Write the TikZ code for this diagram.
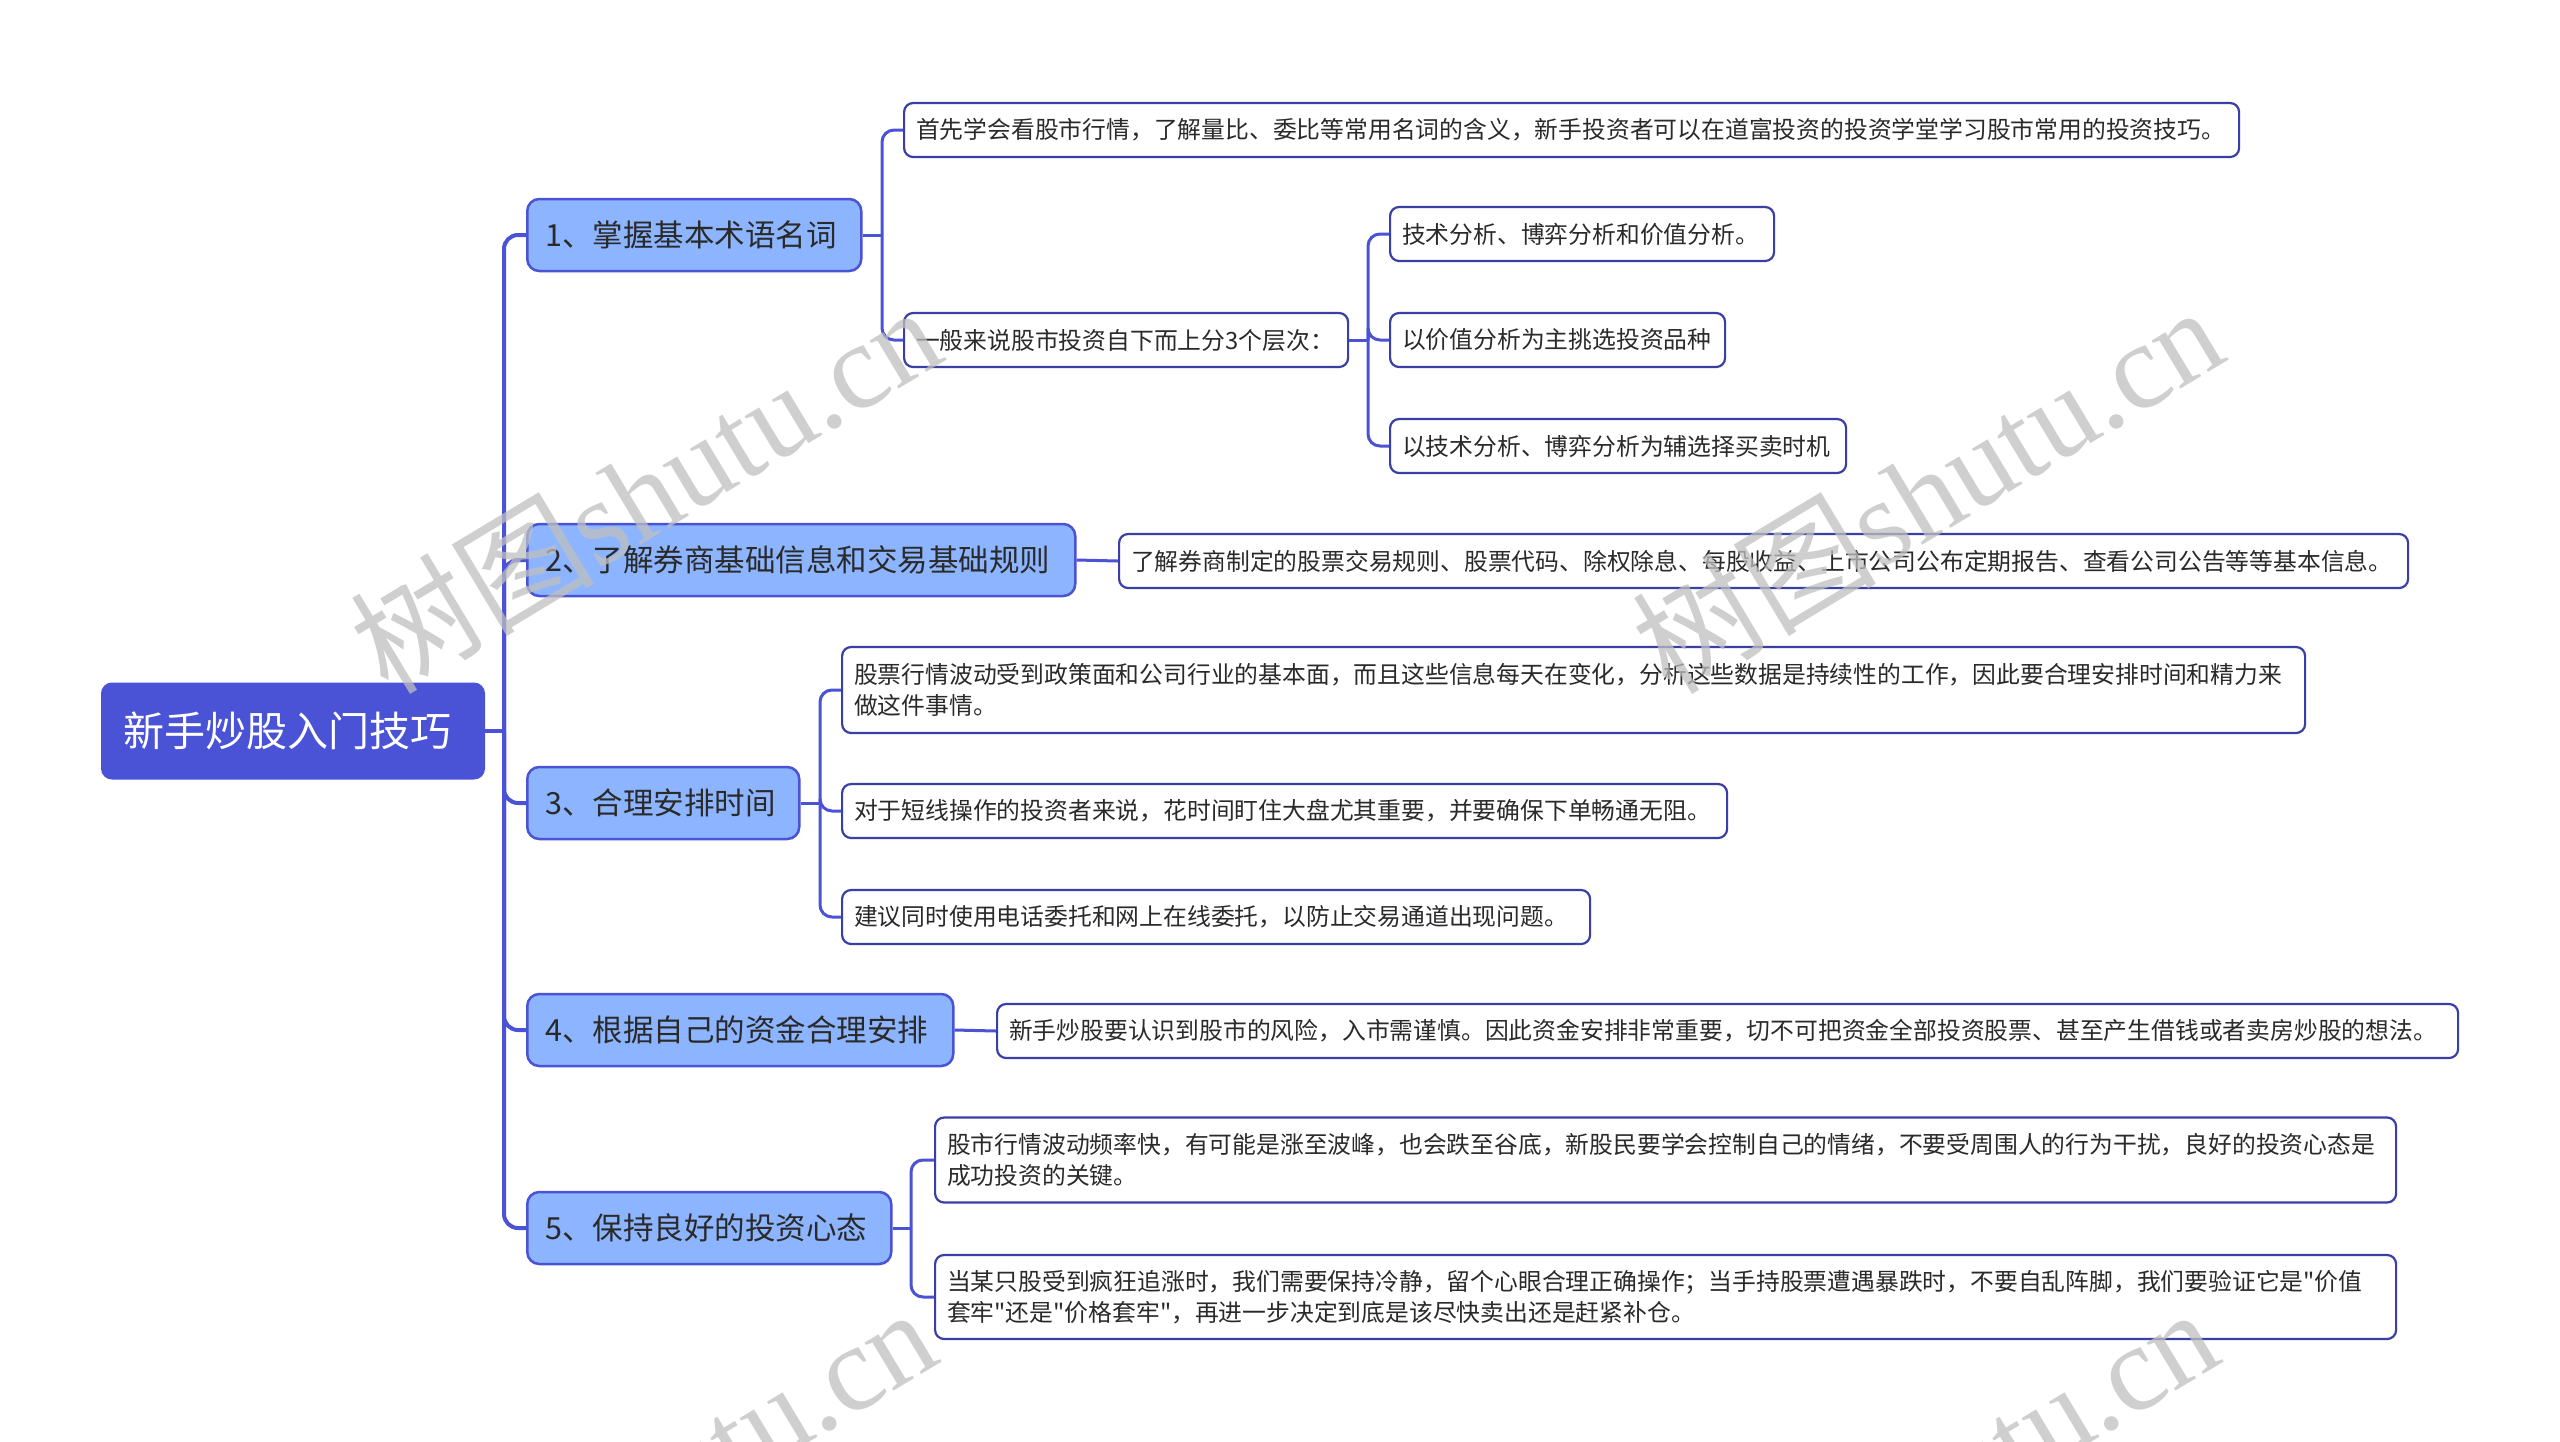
\documentclass[tikz,border=0pt]{standalone}
\usepackage{fontspec}
\setmainfont{Noto Sans CJK SC}[Ligatures=TeXOff]
\newfontfamily\cjkfont{Noto Sans CJK SC}
\newfontfamily\wmserif{Liberation Serif}
\definecolor{rootfill}{HTML}{4A52D6}
\definecolor{lonefill}{HTML}{8CB4FF}
\definecolor{edgecol}{HTML}{4A52D6}
\definecolor{ltwoborder}{HTML}{3A3FA6}
\definecolor{txtcol}{HTML}{2A2A2A}
\begin{document}
\begin{tikzpicture}[x=1pt,y=-1pt,
  rootbox/.style={draw=rootfill,line width=2pt,fill=rootfill,rounded corners=10,text=white,
    font=\fontsize{41}{48}\selectfont,anchor=west,inner xsep=21,inner ysep=0,minimum height=95,align=left},
  lonebox/.style={draw=edgecol,line width=2.5pt,fill=lonefill,rounded corners=12,text=txtcol,
    font=\fontsize{30.5}{36}\selectfont,anchor=west,inner xsep=18,inner ysep=0,minimum height=72,align=left},
  ltwobox/.style={draw=ltwoborder,line width=2.2pt,fill=white,rounded corners=9,text=txtcol,
    font=\fontsize{23.8}{31}\selectfont,anchor=west,inner xsep=12,inner ysep=0,minimum height=54,align=left},
  lonelink/.style={draw=edgecol,line width=4pt,rounded corners=14},
  ltwolink/.style={draw=edgecol,line width=3pt,rounded corners=12},
  wmark/.style={rotate=31,text=black!25,opacity=0.75,font=\fontsize{122}{122}\selectfont}
]
\useasboundingbox (0,0) rectangle (2560,1441);
\fill[white] (0,0) rectangle (2560,1441);

% root
\node[rootbox,text width=340] (root) at (101,731) {新手炒股入门技巧};

% level 1
\node[lonebox,text width=298] (n1) at (526,235) {1、掌握基本术语名词};
\node[lonebox,text width=512] (n2) at (526,560) {2、了解券商基础信息和交易基础规则};
\node[lonebox,text width=236] (n3) at (526,803) {3、合理安排时间};
\node[lonebox,text width=390] (n4) at (526,1030) {4、根据自己的资金合理安排};
\node[lonebox,text width=328] (n5) at (526,1228) {5、保持良好的投资心态};

% level 2
\node[ltwobox,text width=1311] (a1) at (903,130) {首先学会看股市行情，了解量比、委比等常用名词的含义，新手投资者可以在道富投资的投资学堂学习股市常用的投资技巧。};
\node[ltwobox,text width=420] (b1) at (903,340) {一般来说股市投资自下而上分3个层次：};
\node[ltwobox,text width=360] (c1) at (1389,234) {技术分析、博弈分析和价值分析。};
\node[ltwobox,text width=311] (c2) at (1389,340) {以价值分析为主挑选投资品种};
\node[ltwobox,text width=432] (c3) at (1389,446) {以技术分析、博弈分析为辅选择买卖时机};
\node[ltwobox,text width=1265] (a2) at (1118,561) {了解券商制定的股票交易规则、股票代码、除权除息、每股收益、上市公司公布定期报告、查看公司公告等等基本信息。};
\node[ltwobox,text width=1439,minimum height=86] (a3) at (841,690) {股票行情波动受到政策面和公司行业的基本面，而且这些信息每天在变化，分析这些数据是持续性的工作，因此要合理安排时间和精力来\\做这件事情。};
\node[ltwobox,text width=861] (b3) at (841,811) {对于短线操作的投资者来说，花时间盯住大盘尤其重要，并要确保下单畅通无阻。};
\node[ltwobox,text width=724] (c3b) at (841,917) {建议同时使用电话委托和网上在线委托，以防止交易通道出现问题。};
\node[ltwobox,text width=1437] (a4) at (996,1031) {新手炒股要认识到股市的风险，入市需谨慎。因此资金安排非常重要，切不可把资金全部投资股票、甚至产生借钱或者卖房炒股的想法。};
\node[ltwobox,text width=1437,minimum height=85] (a5) at (934,1160) {股市行情波动频率快，有可能是涨至波峰，也会跌至谷底，新股民要学会控制自己的情绪，不要受周围人的行为干扰，良好的投资心态是\\成功投资的关键。};
\node[ltwobox,text width=1437,minimum height=84] (b5) at (934,1297) {当某只股受到疯狂追涨时，我们需要保持冷静，留个心眼合理正确操作；当手持股票遭遇暴跌时，不要自乱阵脚，我们要验证它是"价值\\套牢"还是"价格套牢"，再进一步决定到底是该尽快卖出还是赶紧补仓。};

% junction coordinates
\coordinate (t0) at (504,731);
\coordinate (j1) at (882,235);
\coordinate (j3) at (820,803);
\coordinate (j5) at (911,1228);
\coordinate (jb) at (1368,340);

% level 1 links
\draw[lonelink] (root.east) -- (t0);
\foreach \k in {n1,n2,n3,n4,n5} { \draw[lonelink] (t0) |- (\k.west); }

% level 2 links
\draw[ltwolink] (n1.east) -- (j1);
\draw[ltwolink] (j1) |- (a1.west);
\draw[ltwolink] (j1) |- (b1.west);
\draw[ltwolink] (b1.east) -- (jb);
\draw[ltwolink] (jb) |- (c1.west);
\draw[ltwolink] (jb) |- (c2.west);
\draw[ltwolink] (jb) |- (c3.west);
\draw[ltwolink] (n2.east) -- (a2.west);
\draw[ltwolink] (n3.east) -- (j3);
\draw[ltwolink] (j3) |- (a3.west);
\draw[ltwolink] (j3) |- (b3.west);
\draw[ltwolink] (j3) |- (c3b.west);
\draw[ltwolink] (n4.east) -- (a4.west);
\draw[ltwolink] (n5.east) -- (j5);
\draw[ltwolink] (j5) |- (a5.west);
\draw[ltwolink] (j5) |- (b5.west);

% watermarks
\begin{scope}
\clip (0,0) rectangle (2560,1441);
\node[wmark] (w1) at (645,488) {{\cjkfont 树图}{\wmserif shutu.cn}};
\node[wmark] (w2) at (1927,488) {{\cjkfont 树图}{\wmserif shutu.cn}};
\node[wmark] (w3) at (640,1490) {{\cjkfont 树图}{\wmserif shutu.cn}};
\node[wmark] (w4) at (1922,1490) {{\cjkfont 树图}{\wmserif shutu.cn}};
\end{scope}
\end{tikzpicture}
\end{document}
